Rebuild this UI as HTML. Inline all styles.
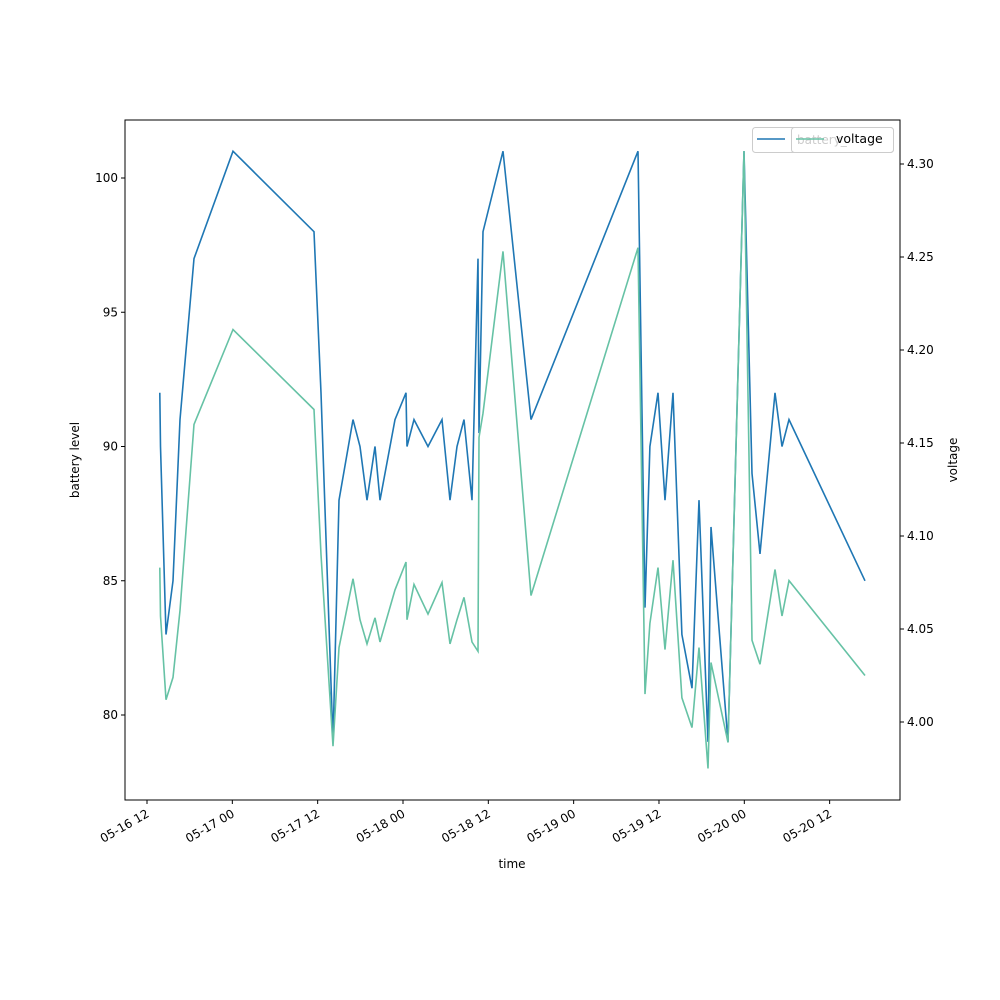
<!DOCTYPE html>
<html><head><meta charset="utf-8"><style>body{margin:0;background:#fff}svg{display:block;font-family:"DejaVu Sans","Liberation Sans",sans-serif}</style></head>
<body>
<svg id="chart" width="1000" height="1000" xmlns="http://www.w3.org/2000/svg"></svg>
<script>
const times = [1.8,1.9,2.67,3.66,4.64,6.61,12.09,23.48,24.47,26.16,27.0,28.97,29.95,30.94,32.06,32.77,34.88,36.42,36.56,37.55,39.52,41.49,42.61,43.6,44.58,45.71,46.55,46.69,47.25,50.06,54.0,69.05,70.03,70.73,71.86,72.84,73.97,75.23,76.64,77.63,78.89,79.31,81.7,83.95,85.08,86.2,88.31,89.3,90.28,100.97];
const battery = [92,90,83,85,91,97,101,98,92,79,88,91,90,88,90,88,91,92,90,91,90,91,88,90,91,88,97,90.5,98,101,91,101,84,90,92,88,92,83,81,88,79,87,79,101,89,86,92,90,91,85];
const voltage = [4.083,4.057,4.012,4.024,4.060,4.160,4.211,4.168,4.090,3.987,4.040,4.077,4.055,4.042,4.056,4.043,4.071,4.086,4.055,4.074,4.058,4.075,4.042,4.055,4.067,4.043,4.038,4.153,4.166,4.253,4.068,4.255,4.015,4.053,4.083,4.039,4.087,4.013,3.997,4.040,3.975,4.032,3.989,4.307,4.044,4.031,4.082,4.057,4.076,4.025];
const xTickHours = [0,12,24,36,48,60,72,84,96];
const xTickLabels = ["05-16 12","05-17 00","05-17 12","05-18 00","05-18 12","05-19 00","05-19 12","05-20 00","05-20 12"];
const leftTicks = [80,85,90,95,100];
const rightTicks = [4.00,4.05,4.10,4.15,4.20,4.25,4.30];

const L=125,R=900,T=120,B=800;
const X=h=>147+h*85.33/12;
const YL=v=>178+(100-v)*26.85;
const YR=v=>164+(4.30-v)*1860;
const svg=document.getElementById('chart');
const NS='http://www.w3.org/2000/svg';
function mk(tag,attrs,parent){const e=document.createElementNS(NS,tag);for(const k in attrs)e.setAttribute(k,attrs[k]);(parent||svg).appendChild(e);return e;}

const clip=mk('clipPath',{id:'pc'});mk('rect',{x:L,y:T,width:R-L,height:B-T},clip);

function series(vals,yf,color,name){
  const p=mk('polyline',{points:vals.map((v,i)=>X(times[i]).toFixed(1)+','+yf(v).toFixed(1)).join(' '),fill:'none',stroke:color,'stroke-width':1.6,'clip-path':'url(#pc)'});
  
  
}
series(battery,YL,'#1f77b4','battery-line');
series(voltage,YR,'#66c2a5','voltage-line');

const frame=mk('rect',{x:L,y:T,width:R-L,height:B-T,fill:'none',stroke:'#000','stroke-width':1});



xTickHours.forEach((h,i)=>{
  const x=X(h);
  mk('line',{x1:x,y1:B,x2:x,y2:B+4,stroke:'#000'});
  const t=mk('text',{x:x+3,y:B+16,'font-size':12,'text-anchor':'end',transform:`rotate(-30 ${x+3} ${B+16})`});
  t.textContent=xTickLabels[i];
  
  
});
leftTicks.forEach(v=>{
  const y=YL(v);
  mk('line',{x1:L-4,y1:y,x2:L,y2:y,stroke:'#000'});
  const t=mk('text',{x:L-7,y:y+4,'font-size':12,'text-anchor':'end'});t.textContent=String(v);
  
  
});
rightTicks.forEach(v=>{
  const y=YR(v);
  mk('line',{x1:R,y1:y,x2:R+4,y2:y,stroke:'#000'});
  const t=mk('text',{x:R+7,y:y+4,'font-size':12}); t.textContent=v.toFixed(2);
  
  
});
</script>
<svg style="position:absolute;left:0;top:0" width="1000" height="1000">
<text x="512" y="868" font-size="12" text-anchor="middle" font-family="DejaVu Sans, sans-serif">time</text>
<text x="79" y="460" font-size="12" text-anchor="middle" transform="rotate(-90 79 460)" font-family="DejaVu Sans, sans-serif">battery level</text>
<text x="957" y="460" font-size="12" text-anchor="middle" transform="rotate(-90 957 460)" font-family="DejaVu Sans, sans-serif">voltage</text>
<g>
<rect x="752.5" y="127.5" width="141" height="25" rx="3" fill="#fff" fill-opacity="0.8" stroke="#ccc"/>
<line x1="757" y1="139" x2="785" y2="139" stroke="#1f77b4" stroke-width="1.6"/>
</g>
<g>
<rect x="791.5" y="127.5" width="102" height="25" rx="3" fill="#fff" fill-opacity="0.8" stroke="#ccc"/>
<text x="797" y="144" font-size="12" fill="#ccc" font-family="DejaVu Sans, sans-serif">battery_</text>
<line x1="796" y1="139" x2="824" y2="139" stroke="#66c2a5" stroke-width="1.6"/>
<text x="836" y="143" font-size="12.5" fill="#000" font-family="DejaVu Sans, sans-serif">voltage</text>
</g>
</svg>
</body></html>
